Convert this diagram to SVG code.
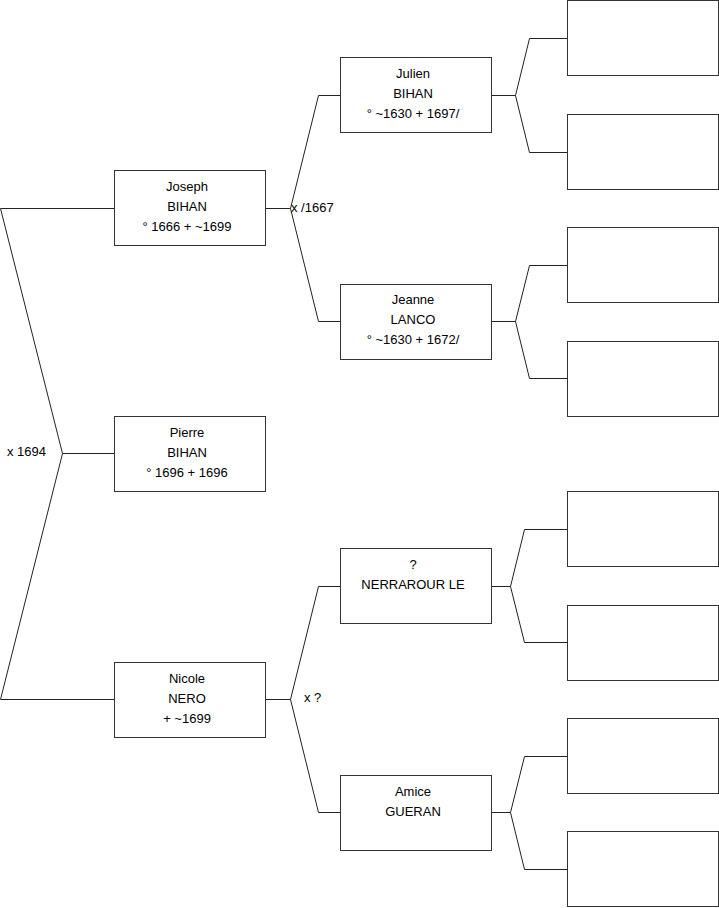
<svg xmlns="http://www.w3.org/2000/svg" width="719" height="908" viewBox="0 0 719 908">
<style>
.box{fill:#fff;stroke:#333;stroke-width:1}
.c{fill:none;stroke:#222;stroke-width:1}
text{font-family:"Liberation Sans",Arial,sans-serif;font-size:13px;fill:#000}
.m{text-anchor:middle}
</style>
<rect width="719" height="908" fill="#fff"/>
<g id="connectors">
<polyline class="c" points="114,208.5 0.5,208.5 62.5,453.5 0.5,699.5 114,699.5"/>
<line class="c" x1="62.5" y1="453.5" x2="114" y2="453.5"/>
<polyline class="c" points="340,95.5 318.5,95.5 290.5,208.5 318.5,321.5 340,321.5"/>
<line class="c" x1="265" y1="208.5" x2="290.5" y2="208.5"/>
<polyline class="c" points="340,586.5 318.5,586.5 290.5,699.5 318.5,812.5 340,812.5"/>
<line class="c" x1="265" y1="699.5" x2="290.5" y2="699.5"/>
<polyline class="c" points="567,38.5 529.5,38.5 515.5,95.5 529.5,152.5 567,152.5"/>
<line class="c" x1="492" y1="95.5" x2="515.5" y2="95.5"/>
<polyline class="c" points="567,265.5 529.5,265.5 515.5,321.5 529.5,378.5 567,378.5"/>
<line class="c" x1="492" y1="321.5" x2="515.5" y2="321.5"/>
<polyline class="c" points="567,529.5 524.5,529.5 510.5,586.5 524.5,642.5 567,642.5"/>
<line class="c" x1="492" y1="586.5" x2="510.5" y2="586.5"/>
<polyline class="c" points="567,756.5 524.5,756.5 510.5,812.5 524.5,869.5 567,869.5"/>
<line class="c" x1="492" y1="812.5" x2="510.5" y2="812.5"/>
</g>
<g id="labels">
<text x="291" y="212">x /1667</text>
<text x="7" y="456">x 1694</text>
<text x="304" y="702">x ?</text>
</g>
<g id="joseph"><rect class="box" x="114.5" y="170.5" width="151" height="75"/>
<text class="m" x="187" y="191">Joseph</text><text class="m" x="187" y="211">BIHAN</text><text class="m" x="187" y="231">° 1666 + ~1699</text></g>
<g id="pierre"><rect class="box" x="114.5" y="416.5" width="151" height="75"/>
<text class="m" x="187" y="437">Pierre</text><text class="m" x="187" y="457">BIHAN</text><text class="m" x="187" y="477">° 1696 + 1696</text></g>
<g id="nicole"><rect class="box" x="114.5" y="662.5" width="151" height="75"/>
<text class="m" x="187" y="683">Nicole</text><text class="m" x="187" y="703">NERO</text><text class="m" x="187" y="723">+ ~1699</text></g>
<g id="julien"><rect class="box" x="340.5" y="57.5" width="151" height="75"/>
<text class="m" x="413" y="78">Julien</text><text class="m" x="413" y="98">BIHAN</text><text class="m" x="413" y="118">° ~1630 + 1697/</text></g>
<g id="jeanne"><rect class="box" x="340.5" y="284.5" width="151" height="75"/>
<text class="m" x="413" y="304">Jeanne</text><text class="m" x="413" y="324">LANCO</text><text class="m" x="413" y="344">° ~1630 + 1672/</text></g>
<g id="nerrarour"><rect class="box" x="340.5" y="548.5" width="151" height="75"/>
<text class="m" x="413" y="569">?</text><text class="m" x="413" y="589">NERRAROUR LE</text></g>
<g id="amice"><rect class="box" x="340.5" y="775.5" width="151" height="75"/>
<text class="m" x="413" y="796">Amice</text><text class="m" x="413" y="816">GUERAN</text></g>
<g id="p1"><rect class="box" x="567.5" y="0.5" width="151" height="75"/></g>
<g id="p2"><rect class="box" x="567.5" y="114.5" width="151" height="75"/></g>
<g id="p3"><rect class="box" x="567.5" y="227.5" width="151" height="75"/></g>
<g id="p4"><rect class="box" x="567.5" y="341.5" width="151" height="75"/></g>
<g id="p5"><rect class="box" x="567.5" y="491.5" width="151" height="75"/></g>
<g id="p6"><rect class="box" x="567.5" y="605.5" width="151" height="75"/></g>
<g id="p7"><rect class="box" x="567.5" y="718.5" width="151" height="75"/></g>
<g id="p8"><rect class="box" x="567.5" y="831.5" width="151" height="75"/></g>
</svg>
